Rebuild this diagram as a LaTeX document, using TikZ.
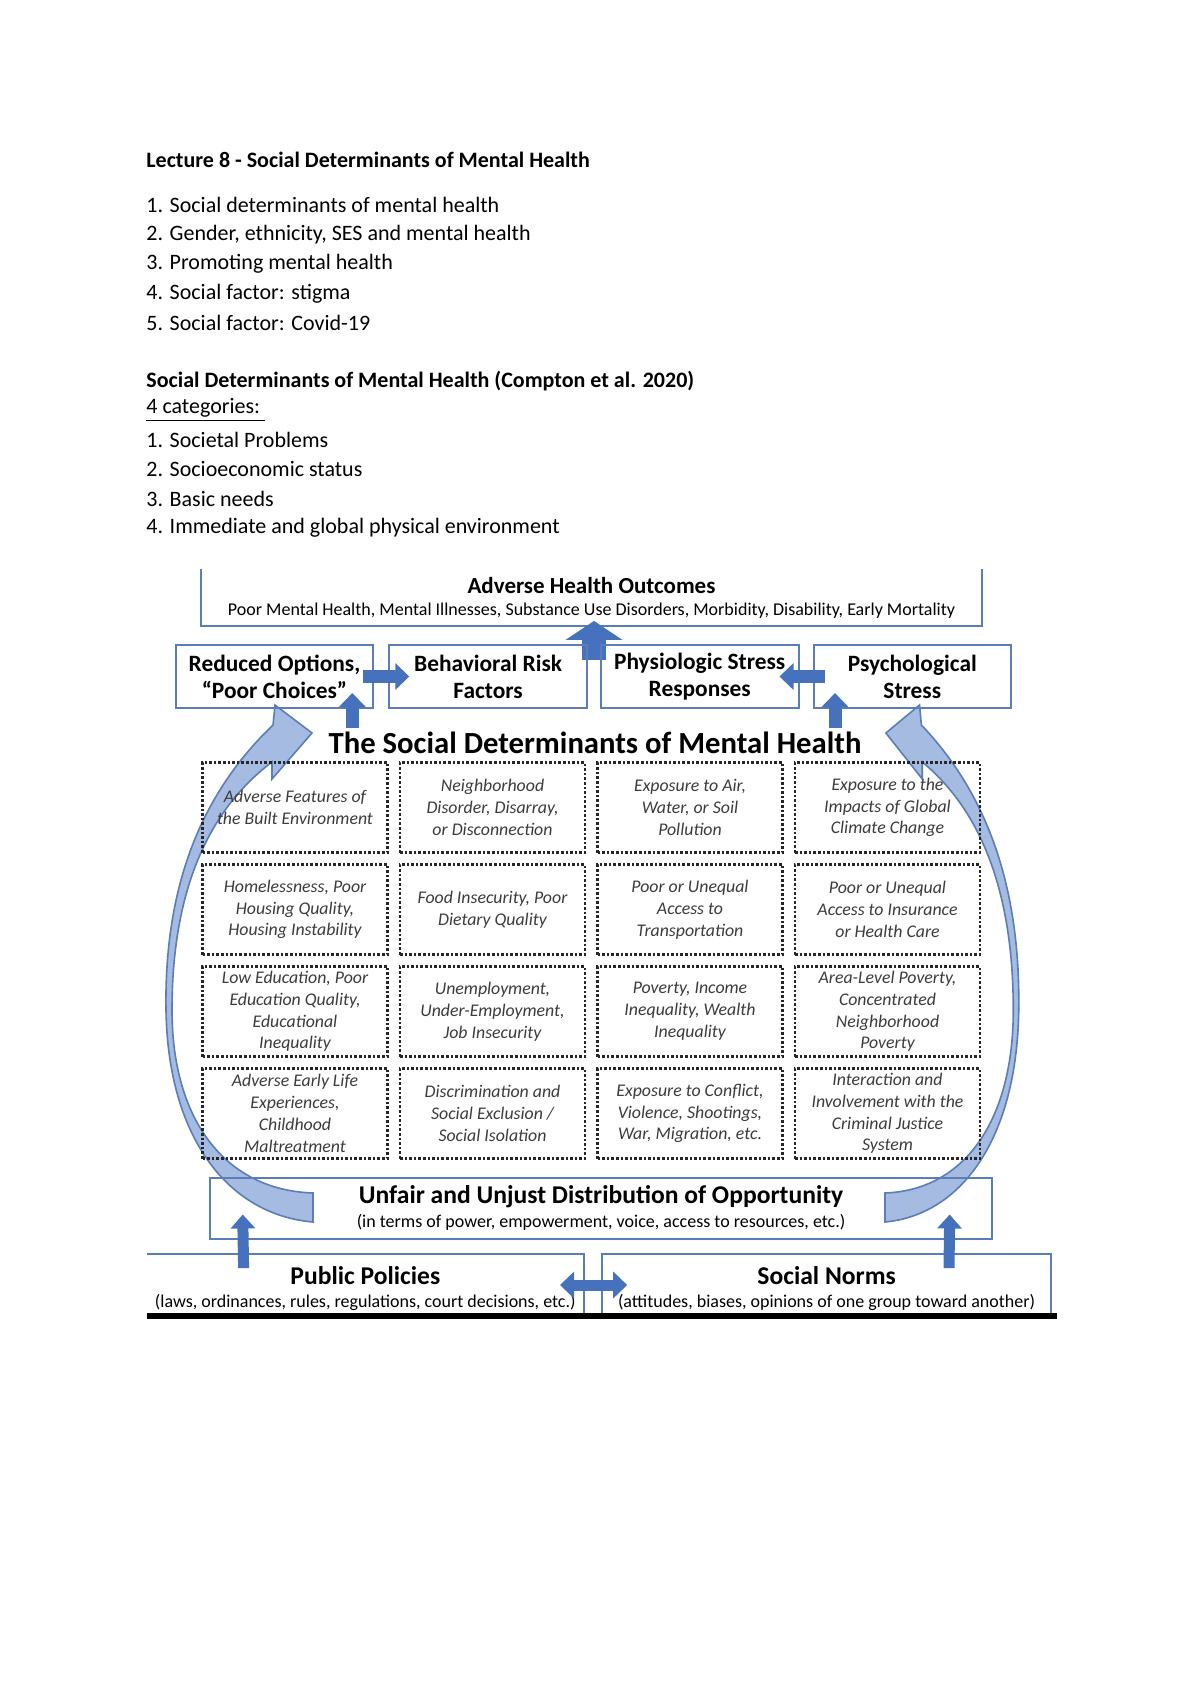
\documentclass[tikz,border=0pt]{standalone}
\usepackage{fontspec}
\setmainfont{Carlito}
\usetikzlibrary{arrows.meta,positioning,calc}

\definecolor{boxblue}{HTML}{5B7DB8}
\definecolor{arrowblue}{HTML}{4672BD}
\definecolor{lightarrow}{HTML}{A5BBE1}
\definecolor{celltext}{HTML}{3C3C3C}

\tikzset{
  txt/.style={anchor=west, inner sep=0pt, font=\fontsize{11}{13}\selectfont},
  outbox/.style={draw=boxblue, line width=1pt, align=center, inner sep=1pt,
    minimum width=98.8pt, minimum height=31.5pt, font=\fontsize{11.7}{13.5}\selectfont\bfseries},
  cell/.style={draw=black!85, line width=1.3pt, densely dotted, minimum width=92.5pt,
    minimum height=45pt, inner sep=1pt, align=center, text=celltext,
    font=\fontsize{8.9}{10.9}\selectfont\itshape},
  blockarrow/.style={-{Triangle[width=13pt,length=7pt]}, line width=6.5pt, draw=arrowblue},
  thinarrow/.style={-{Triangle[width=12pt,length=7pt]}, line width=5.5pt, draw=arrowblue},
  bendarrow/.style={fill=lightarrow, draw=boxblue, line width=0.8pt},
  boxline/.style={draw=boxblue, line width=1pt},
}

% outline of the left curved arrow, reused for the right one
\newcommand\bendpath{(313,1222) .. controls (230,1215) and (168,1140) .. (166,1010)
  .. controls (164,880) and (205,790) .. (273,725) -- (275,705) -- (312,733)
  -- (272,779) -- (272,762) .. controls (215,805) and (172,880) .. (172,1010)
  .. controls (172,1120) and (225,1190) .. (313,1193) -- cycle}

\begin{document}
\begin{tikzpicture}[x=0.5pt,y=-0.5pt]
  \useasboundingbox[fill=white] (0,0) rectangle (1200,1696);

  % lecture text
  \node[txt] (lec) at (146,160) {\bfseries Lecture 8 - Social Determinants of Mental Health};
  \node[txt, below=22.5pt of lec.west, anchor=west] (l1) {1. Social determinants of mental health};
  \node[txt, below=14.75pt of l1.west, anchor=west] (l2) {2. Gender, ethnicity, SES and mental health};
  \node[txt, below=14.75pt of l2.west, anchor=west] (l3) {3. Promoting mental health};
  \node[txt, below=14.75pt of l3.west, anchor=west] (l4) {4. Social factor: stigma};
  \node[txt, below=14.75pt of l4.west, anchor=west] (l5) {5. Social factor: Covid-19};
  \node[txt, below=29pt of l5.west, anchor=west] (sdmh) {\bfseries Social Determinants of Mental Health (Compton et al. 2020)};
  \node[txt, below=14.5pt of sdmh.west, anchor=west] (cat) {\underline{4 categories:\ }};
  \node[txt, below=14.75pt of cat.west, anchor=west] (c1) {1. Societal Problems};
  \node[txt, below=14.75pt of c1.west, anchor=west] (c2) {2. Socioeconomic status};
  \node[txt, below=14.75pt of c2.west, anchor=west] (c3) {3. Basic needs};
  \node[txt, below=14.75pt of c3.west, anchor=west] (c4) {4. Immediate and global physical environment};

  % curved arrows behind the boxes
  \filldraw[bendarrow] \bendpath;
  \begin{scope}[shift={(1169.8,0)}, xscale=-0.91]
    \filldraw[bendarrow] \bendpath;
  \end{scope}

  % outcomes
  \node[align=center, minimum width=390pt, minimum height=28pt, inner sep=0pt] (outcome) at (591.5,597.5)
    {{\fontsize{11.5}{12}\selectfont\bfseries Adverse Health Outcomes}\\[-1pt]
     {\fontsize{9}{10}\selectfont Poor Mental Health, Mental Illnesses, Substance Use Disorders, Morbidity, Disability, Early Mortality}};
  \draw[boxline] (outcome.north west) -- (outcome.south west) -- (outcome.south east) -- (outcome.north east);
  \coordinate (gap) at (594,659.5);
  \draw[-{Triangle[width=28pt,length=9.5pt]}, line width=12pt, draw=arrowblue]
    (gap) -- ($(gap |- outcome.south)+(0,-5)$);

  % pathways
  \node[outbox] (reduced) at (274.5,676.5) {Reduced Options,\\“Poor Choices”};
  \node[outbox, right=7pt of reduced] (behav) {Behavioral Risk\\Factors};
  \node[outbox, right=6pt of behav] (physio) {Physiologic Stress\\Responses};
  \node[outbox, right=6.5pt of physio] (psych) {Psychological\\Stress};
  \draw[blockarrow] ($(reduced.east)+(-11,0)$) -- ($(behav.west)+(21,0)$);
  \draw[blockarrow] ($(psych.west)+(12,0)$) -- ($(physio.east)+(-20,0)$);
  \draw[blockarrow] ($(reduced.south east)+(-22,19)$) -- ($(reduced.south east)+(-22,-16)$);
  \draw[blockarrow] ($(psych.south west)+(22.5,19)$) -- ($(psych.south west)+(22.5,-16)$);

  \node[font=\fontsize{15.35}{18}\selectfont\bfseries] (title) at (595,743) {The Social Determinants of Mental Health};

  % determinants grid
  \foreach \txt [count=\i from 0] in {
    {Adverse Features of\\the Built Environment},
    {Neighborhood\\Disorder, Disarray,\\or Disconnection},
    {Exposure to Air,\\Water, or Soil\\Pollution},
    {Exposure to the\\Impacts of Global\\Climate Change},
    {Homelessness, Poor\\Housing Quality,\\Housing Instability},
    {Food Insecurity, Poor\\Dietary Quality},
    {Poor or Unequal\\Access to\\Transportation},
    {Poor or Unequal\\Access to Insurance\\or Health Care},
    {Low Education, Poor\\Education Quality,\\Educational\\Inequality},
    {Unemployment,\\Under-Employment,\\Job Insecurity},
    {Poverty, Income\\Inequality, Wealth\\Inequality},
    {Area-Level Poverty,\\Concentrated\\Neighborhood\\Poverty},
    {Adverse Early Life\\Experiences,\\Childhood\\Maltreatment},
    {Discrimination and\\Social Exclusion /\\Social Isolation},
    {Exposure to Conflict,\\Violence, Shootings,\\War, Migration, etc.},
    {Interaction and\\Involvement with the\\Criminal Justice\\System}} {
    \pgfmathtruncatemacro\col{mod(\i,4)}
    \pgfmathtruncatemacro\row{div(\i,4)}
    \node[cell] (cell\i) at (295+197.5*\col, 807.5+102*\row) {\txt};
  }

  % opportunity
  \node[boxline, align=center, minimum width=391pt, minimum height=30.5pt, inner sep=0pt] (unfair) at (601,1208)
    {{\fontsize{12.8}{13}\selectfont\bfseries Unfair and Unjust Distribution of Opportunity}\\[0pt]
     {\fontsize{9}{10}\selectfont (in terms of power, empowerment, voice, access to resources, etc.)}};

  % root causes
  \node[align=center, minimum width=218.3pt, minimum height=30.5pt, inner sep=0pt] (public) at (365.3,1285)
    {{\rule{0pt}{13pt}\fontsize{12.8}{13}\selectfont\bfseries Public Policies}\\[-0.5pt]
     {\fontsize{9}{10}\selectfont (laws, ordinances, rules, regulations, court decisions, etc.)}};
  \node[align=center, minimum width=224pt, minimum height=30.5pt, inner sep=0pt] (norms) at (826.6,1285)
    {{\rule{0pt}{13pt}\fontsize{12.8}{13}\selectfont\bfseries Social Norms}\\[-0.5pt]
     {\fontsize{9}{10}\selectfont (attitudes, biases, opinions of one group toward another)}};
  \draw[boxline] (public.north west) -- (public.north east) -- (public.south east);
  \draw[boxline] (norms.south west) -- (norms.north west) -- (norms.north east) -- (norms.south east);
  \draw[line width=2.75pt] (public.south west) -- ($(norms.south east)+(6,0)$);
  \draw[{Triangle[width=13pt,length=7pt]}-{Triangle[width=13pt,length=7pt]}, line width=5.5pt, draw=arrowblue]
    ($(public.east)+(-24,0)$) -- ($(norms.west)+(25,0)$);
  \draw[thinarrow] ($(public.north west)+(97,14)$) -- ($(unfair.south west)+(33.7,-25)$);
  \draw[thinarrow] ($(norms.north east)+(-102,14)$) -- ($(unfair.south east)+(-43.3,-25)$);
\end{tikzpicture}
\end{document}
